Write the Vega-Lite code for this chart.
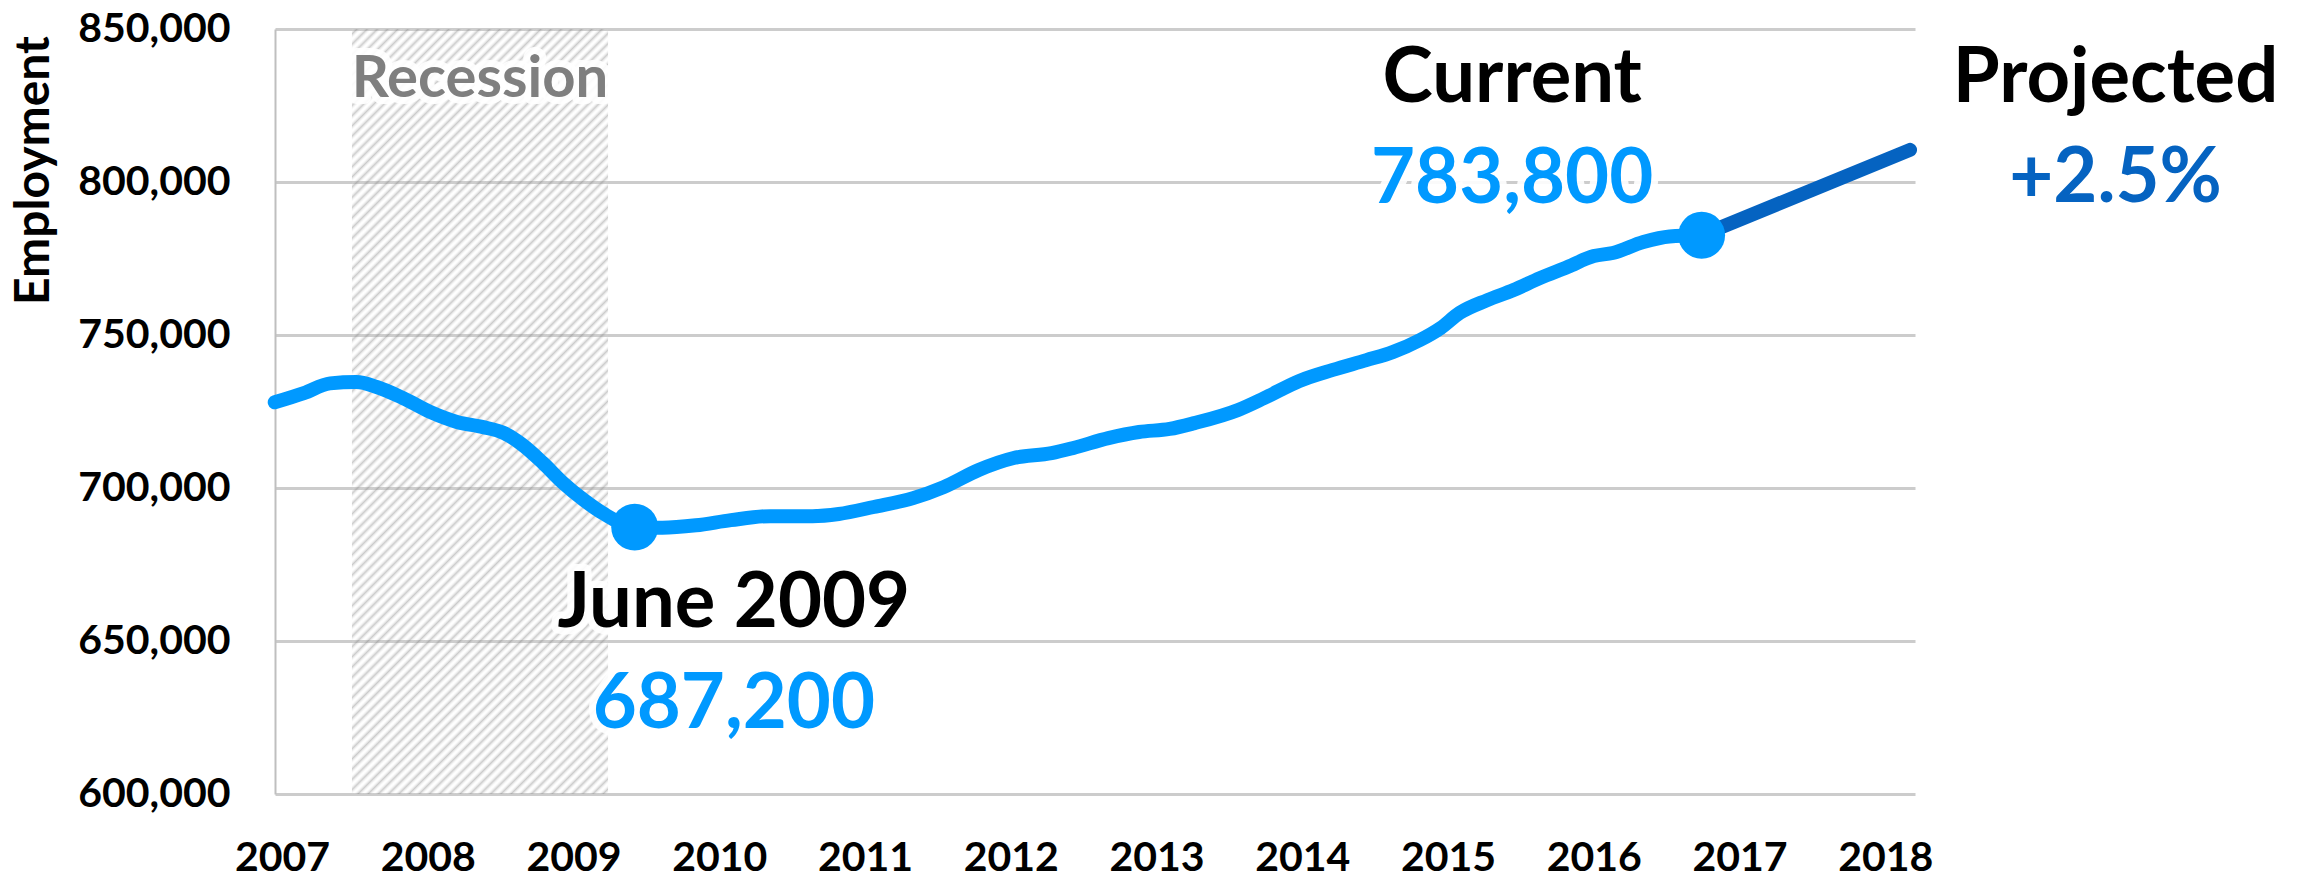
{
  "$schema": "https://vega.github.io/schema/vega-lite/v6.json",
  "width": 1640,
  "height": 765,
  "autosize": {"type": "none"},
  "padding": {"left": 275, "top": 29, "right": 391, "bottom": 92},
  "background": "white",
  "datasets": {
    "actual": [
      {"year": 2006.95, "value": 728000},
      {"year": 2007.15, "value": 731000},
      {"year": 2007.33, "value": 734200},
      {"year": 2007.51, "value": 734600},
      {"year": 2007.65, "value": 733000},
      {"year": 2007.83, "value": 729400},
      {"year": 2008.02, "value": 724800},
      {"year": 2008.2, "value": 721600},
      {"year": 2008.38, "value": 719900},
      {"year": 2008.52, "value": 718000},
      {"year": 2008.65, "value": 714100},
      {"year": 2008.79, "value": 708200},
      {"year": 2008.93, "value": 701600},
      {"year": 2009.07, "value": 696100},
      {"year": 2009.2, "value": 691800},
      {"year": 2009.42, "value": 687200},
      {"year": 2009.61, "value": 687000},
      {"year": 2009.84, "value": 687800},
      {"year": 2010.08, "value": 689500},
      {"year": 2010.35, "value": 690800},
      {"year": 2010.64, "value": 690800},
      {"year": 2010.82, "value": 691500},
      {"year": 2011.06, "value": 693800},
      {"year": 2011.33, "value": 696700},
      {"year": 2011.54, "value": 700300},
      {"year": 2011.78, "value": 705900},
      {"year": 2012.02, "value": 709800},
      {"year": 2012.28, "value": 711400},
      {"year": 2012.43, "value": 713100},
      {"year": 2012.67, "value": 716300},
      {"year": 2012.88, "value": 718300},
      {"year": 2013.09, "value": 719300},
      {"year": 2013.26, "value": 721200},
      {"year": 2013.56, "value": 725500},
      {"year": 2013.74, "value": 729400},
      {"year": 2013.98, "value": 735000},
      {"year": 2014.21, "value": 738600},
      {"year": 2014.44, "value": 741800},
      {"year": 2014.62, "value": 744400},
      {"year": 2014.81, "value": 748400},
      {"year": 2014.95, "value": 752300},
      {"year": 2015.08, "value": 757200},
      {"year": 2015.27, "value": 761400},
      {"year": 2015.45, "value": 764700},
      {"year": 2015.63, "value": 768600},
      {"year": 2015.82, "value": 772200},
      {"year": 2016.0, "value": 775800},
      {"year": 2016.13, "value": 776800},
      {"year": 2016.34, "value": 780400},
      {"year": 2016.52, "value": 782200},
      {"year": 2016.74, "value": 782600}
    ],
    "projected": [
      {"year": 2016.74, "value": 782600},
      {"year": 2018.17, "value": 810500}
    ],
    "points": [
      {"year": 2009.42, "value": 687200, "name": "June 2009"},
      {"year": 2016.74, "value": 782600, "name": "Current"}
    ],
    "recession": [
      {"start": 2007.48, "end": 2009.237, "low": 600000, "high": 850000, "label": "Recession", "labelYear": 2008.358, "labelValue": 827800}
    ],
    "notes": [
      {"text": "June 2009", "year": 2010.1, "value": 654600, "kind": "head"},
      {"text": "687,200", "year": 2010.1, "value": 621600, "kind": "actual"},
      {"text": "Current", "year": 2015.44, "value": 826100, "kind": "head"},
      {"text": "783,800", "year": 2015.44, "value": 793100, "kind": "actual"},
      {"text": "Projected", "year": 2019.58, "value": 826100, "kind": "head"},
      {"text": "+2.5%", "year": 2019.58, "value": 793400, "kind": "projected"}
    ]
  },
  "layer": [
    {
      "data": {"name": "recession"},
      "mark": {
        "type": "rect",
        "fill": {
          "gradient": "linear",
          "x1": 0, "y1": 0, "x2": 0.4017, "y2": 1.2003,
          "stops": [
            {"offset": 0, "color": "rgba(255,255,255,0)"},
            {"offset": 0.005, "color": "rgba(140,140,140,0.45)"},
            {"offset": 0.01, "color": "rgba(255,255,255,0)"},
            {"offset": 0.015, "color": "rgba(140,140,140,0.45)"},
            {"offset": 0.02, "color": "rgba(255,255,255,0)"},
            {"offset": 0.025, "color": "rgba(140,140,140,0.45)"},
            {"offset": 0.03, "color": "rgba(255,255,255,0)"},
            {"offset": 0.035, "color": "rgba(140,140,140,0.45)"},
            {"offset": 0.04, "color": "rgba(255,255,255,0)"},
            {"offset": 0.045, "color": "rgba(140,140,140,0.45)"},
            {"offset": 0.05, "color": "rgba(255,255,255,0)"},
            {"offset": 0.055, "color": "rgba(140,140,140,0.45)"},
            {"offset": 0.06, "color": "rgba(255,255,255,0)"},
            {"offset": 0.065, "color": "rgba(140,140,140,0.45)"},
            {"offset": 0.07, "color": "rgba(255,255,255,0)"},
            {"offset": 0.075, "color": "rgba(140,140,140,0.45)"},
            {"offset": 0.08, "color": "rgba(255,255,255,0)"},
            {"offset": 0.085, "color": "rgba(140,140,140,0.45)"},
            {"offset": 0.09, "color": "rgba(255,255,255,0)"},
            {"offset": 0.095, "color": "rgba(140,140,140,0.45)"},
            {"offset": 0.1, "color": "rgba(255,255,255,0)"},
            {"offset": 0.105, "color": "rgba(140,140,140,0.45)"},
            {"offset": 0.11, "color": "rgba(255,255,255,0)"},
            {"offset": 0.115, "color": "rgba(140,140,140,0.45)"},
            {"offset": 0.12, "color": "rgba(255,255,255,0)"},
            {"offset": 0.125, "color": "rgba(140,140,140,0.45)"},
            {"offset": 0.13, "color": "rgba(255,255,255,0)"},
            {"offset": 0.135, "color": "rgba(140,140,140,0.45)"},
            {"offset": 0.14, "color": "rgba(255,255,255,0)"},
            {"offset": 0.145, "color": "rgba(140,140,140,0.45)"},
            {"offset": 0.15, "color": "rgba(255,255,255,0)"},
            {"offset": 0.155, "color": "rgba(140,140,140,0.45)"},
            {"offset": 0.16, "color": "rgba(255,255,255,0)"},
            {"offset": 0.165, "color": "rgba(140,140,140,0.45)"},
            {"offset": 0.17, "color": "rgba(255,255,255,0)"},
            {"offset": 0.175, "color": "rgba(140,140,140,0.45)"},
            {"offset": 0.18, "color": "rgba(255,255,255,0)"},
            {"offset": 0.185, "color": "rgba(140,140,140,0.45)"},
            {"offset": 0.19, "color": "rgba(255,255,255,0)"},
            {"offset": 0.195, "color": "rgba(140,140,140,0.45)"},
            {"offset": 0.2, "color": "rgba(255,255,255,0)"},
            {"offset": 0.205, "color": "rgba(140,140,140,0.45)"},
            {"offset": 0.21, "color": "rgba(255,255,255,0)"},
            {"offset": 0.215, "color": "rgba(140,140,140,0.45)"},
            {"offset": 0.22, "color": "rgba(255,255,255,0)"},
            {"offset": 0.225, "color": "rgba(140,140,140,0.45)"},
            {"offset": 0.23, "color": "rgba(255,255,255,0)"},
            {"offset": 0.235, "color": "rgba(140,140,140,0.45)"},
            {"offset": 0.24, "color": "rgba(255,255,255,0)"},
            {"offset": 0.245, "color": "rgba(140,140,140,0.45)"},
            {"offset": 0.25, "color": "rgba(255,255,255,0)"},
            {"offset": 0.255, "color": "rgba(140,140,140,0.45)"},
            {"offset": 0.26, "color": "rgba(255,255,255,0)"},
            {"offset": 0.265, "color": "rgba(140,140,140,0.45)"},
            {"offset": 0.27, "color": "rgba(255,255,255,0)"},
            {"offset": 0.275, "color": "rgba(140,140,140,0.45)"},
            {"offset": 0.28, "color": "rgba(255,255,255,0)"},
            {"offset": 0.285, "color": "rgba(140,140,140,0.45)"},
            {"offset": 0.29, "color": "rgba(255,255,255,0)"},
            {"offset": 0.295, "color": "rgba(140,140,140,0.45)"},
            {"offset": 0.3, "color": "rgba(255,255,255,0)"},
            {"offset": 0.305, "color": "rgba(140,140,140,0.45)"},
            {"offset": 0.31, "color": "rgba(255,255,255,0)"},
            {"offset": 0.315, "color": "rgba(140,140,140,0.45)"},
            {"offset": 0.32, "color": "rgba(255,255,255,0)"},
            {"offset": 0.325, "color": "rgba(140,140,140,0.45)"},
            {"offset": 0.33, "color": "rgba(255,255,255,0)"},
            {"offset": 0.335, "color": "rgba(140,140,140,0.45)"},
            {"offset": 0.34, "color": "rgba(255,255,255,0)"},
            {"offset": 0.345, "color": "rgba(140,140,140,0.45)"},
            {"offset": 0.35, "color": "rgba(255,255,255,0)"},
            {"offset": 0.355, "color": "rgba(140,140,140,0.45)"},
            {"offset": 0.36, "color": "rgba(255,255,255,0)"},
            {"offset": 0.365, "color": "rgba(140,140,140,0.45)"},
            {"offset": 0.37, "color": "rgba(255,255,255,0)"},
            {"offset": 0.375, "color": "rgba(140,140,140,0.45)"},
            {"offset": 0.38, "color": "rgba(255,255,255,0)"},
            {"offset": 0.385, "color": "rgba(140,140,140,0.45)"},
            {"offset": 0.39, "color": "rgba(255,255,255,0)"},
            {"offset": 0.395, "color": "rgba(140,140,140,0.45)"},
            {"offset": 0.4, "color": "rgba(255,255,255,0)"},
            {"offset": 0.405, "color": "rgba(140,140,140,0.45)"},
            {"offset": 0.41, "color": "rgba(255,255,255,0)"},
            {"offset": 0.415, "color": "rgba(140,140,140,0.45)"},
            {"offset": 0.42, "color": "rgba(255,255,255,0)"},
            {"offset": 0.425, "color": "rgba(140,140,140,0.45)"},
            {"offset": 0.43, "color": "rgba(255,255,255,0)"},
            {"offset": 0.435, "color": "rgba(140,140,140,0.45)"},
            {"offset": 0.44, "color": "rgba(255,255,255,0)"},
            {"offset": 0.445, "color": "rgba(140,140,140,0.45)"},
            {"offset": 0.45, "color": "rgba(255,255,255,0)"},
            {"offset": 0.455, "color": "rgba(140,140,140,0.45)"},
            {"offset": 0.46, "color": "rgba(255,255,255,0)"},
            {"offset": 0.465, "color": "rgba(140,140,140,0.45)"},
            {"offset": 0.47, "color": "rgba(255,255,255,0)"},
            {"offset": 0.475, "color": "rgba(140,140,140,0.45)"},
            {"offset": 0.48, "color": "rgba(255,255,255,0)"},
            {"offset": 0.485, "color": "rgba(140,140,140,0.45)"},
            {"offset": 0.49, "color": "rgba(255,255,255,0)"},
            {"offset": 0.495, "color": "rgba(140,140,140,0.45)"},
            {"offset": 0.5, "color": "rgba(255,255,255,0)"},
            {"offset": 0.505, "color": "rgba(140,140,140,0.45)"},
            {"offset": 0.51, "color": "rgba(255,255,255,0)"},
            {"offset": 0.515, "color": "rgba(140,140,140,0.45)"},
            {"offset": 0.52, "color": "rgba(255,255,255,0)"},
            {"offset": 0.525, "color": "rgba(140,140,140,0.45)"},
            {"offset": 0.53, "color": "rgba(255,255,255,0)"},
            {"offset": 0.535, "color": "rgba(140,140,140,0.45)"},
            {"offset": 0.54, "color": "rgba(255,255,255,0)"},
            {"offset": 0.545, "color": "rgba(140,140,140,0.45)"},
            {"offset": 0.55, "color": "rgba(255,255,255,0)"},
            {"offset": 0.555, "color": "rgba(140,140,140,0.45)"},
            {"offset": 0.56, "color": "rgba(255,255,255,0)"},
            {"offset": 0.565, "color": "rgba(140,140,140,0.45)"},
            {"offset": 0.57, "color": "rgba(255,255,255,0)"},
            {"offset": 0.575, "color": "rgba(140,140,140,0.45)"},
            {"offset": 0.58, "color": "rgba(255,255,255,0)"},
            {"offset": 0.585, "color": "rgba(140,140,140,0.45)"},
            {"offset": 0.59, "color": "rgba(255,255,255,0)"},
            {"offset": 0.595, "color": "rgba(140,140,140,0.45)"},
            {"offset": 0.6, "color": "rgba(255,255,255,0)"},
            {"offset": 0.605, "color": "rgba(140,140,140,0.45)"},
            {"offset": 0.61, "color": "rgba(255,255,255,0)"},
            {"offset": 0.615, "color": "rgba(140,140,140,0.45)"},
            {"offset": 0.62, "color": "rgba(255,255,255,0)"},
            {"offset": 0.625, "color": "rgba(140,140,140,0.45)"},
            {"offset": 0.63, "color": "rgba(255,255,255,0)"},
            {"offset": 0.635, "color": "rgba(140,140,140,0.45)"},
            {"offset": 0.64, "color": "rgba(255,255,255,0)"},
            {"offset": 0.645, "color": "rgba(140,140,140,0.45)"},
            {"offset": 0.65, "color": "rgba(255,255,255,0)"},
            {"offset": 0.655, "color": "rgba(140,140,140,0.45)"},
            {"offset": 0.66, "color": "rgba(255,255,255,0)"},
            {"offset": 0.665, "color": "rgba(140,140,140,0.45)"},
            {"offset": 0.67, "color": "rgba(255,255,255,0)"},
            {"offset": 0.675, "color": "rgba(140,140,140,0.45)"},
            {"offset": 0.68, "color": "rgba(255,255,255,0)"},
            {"offset": 0.685, "color": "rgba(140,140,140,0.45)"},
            {"offset": 0.69, "color": "rgba(255,255,255,0)"},
            {"offset": 0.695, "color": "rgba(140,140,140,0.45)"},
            {"offset": 0.7, "color": "rgba(255,255,255,0)"},
            {"offset": 0.705, "color": "rgba(140,140,140,0.45)"},
            {"offset": 0.71, "color": "rgba(255,255,255,0)"},
            {"offset": 0.715, "color": "rgba(140,140,140,0.45)"},
            {"offset": 0.72, "color": "rgba(255,255,255,0)"},
            {"offset": 0.725, "color": "rgba(140,140,140,0.45)"},
            {"offset": 0.73, "color": "rgba(255,255,255,0)"},
            {"offset": 0.735, "color": "rgba(140,140,140,0.45)"},
            {"offset": 0.74, "color": "rgba(255,255,255,0)"},
            {"offset": 0.745, "color": "rgba(140,140,140,0.45)"},
            {"offset": 0.75, "color": "rgba(255,255,255,0)"},
            {"offset": 0.755, "color": "rgba(140,140,140,0.45)"},
            {"offset": 0.76, "color": "rgba(255,255,255,0)"},
            {"offset": 0.765, "color": "rgba(140,140,140,0.45)"},
            {"offset": 0.77, "color": "rgba(255,255,255,0)"},
            {"offset": 0.775, "color": "rgba(140,140,140,0.45)"},
            {"offset": 0.78, "color": "rgba(255,255,255,0)"},
            {"offset": 0.785, "color": "rgba(140,140,140,0.45)"},
            {"offset": 0.79, "color": "rgba(255,255,255,0)"},
            {"offset": 0.795, "color": "rgba(140,140,140,0.45)"},
            {"offset": 0.8, "color": "rgba(255,255,255,0)"},
            {"offset": 0.805, "color": "rgba(140,140,140,0.45)"},
            {"offset": 0.81, "color": "rgba(255,255,255,0)"},
            {"offset": 0.815, "color": "rgba(140,140,140,0.45)"},
            {"offset": 0.82, "color": "rgba(255,255,255,0)"},
            {"offset": 0.825, "color": "rgba(140,140,140,0.45)"},
            {"offset": 0.83, "color": "rgba(255,255,255,0)"},
            {"offset": 0.835, "color": "rgba(140,140,140,0.45)"},
            {"offset": 0.84, "color": "rgba(255,255,255,0)"},
            {"offset": 0.845, "color": "rgba(140,140,140,0.45)"},
            {"offset": 0.85, "color": "rgba(255,255,255,0)"},
            {"offset": 0.855, "color": "rgba(140,140,140,0.45)"},
            {"offset": 0.86, "color": "rgba(255,255,255,0)"},
            {"offset": 0.865, "color": "rgba(140,140,140,0.45)"},
            {"offset": 0.87, "color": "rgba(255,255,255,0)"},
            {"offset": 0.875, "color": "rgba(140,140,140,0.45)"},
            {"offset": 0.88, "color": "rgba(255,255,255,0)"},
            {"offset": 0.885, "color": "rgba(140,140,140,0.45)"},
            {"offset": 0.89, "color": "rgba(255,255,255,0)"},
            {"offset": 0.895, "color": "rgba(140,140,140,0.45)"},
            {"offset": 0.9, "color": "rgba(255,255,255,0)"},
            {"offset": 0.905, "color": "rgba(140,140,140,0.45)"},
            {"offset": 0.91, "color": "rgba(255,255,255,0)"},
            {"offset": 0.915, "color": "rgba(140,140,140,0.45)"},
            {"offset": 0.92, "color": "rgba(255,255,255,0)"},
            {"offset": 0.925, "color": "rgba(140,140,140,0.45)"},
            {"offset": 0.93, "color": "rgba(255,255,255,0)"},
            {"offset": 0.935, "color": "rgba(140,140,140,0.45)"},
            {"offset": 0.94, "color": "rgba(255,255,255,0)"},
            {"offset": 0.945, "color": "rgba(140,140,140,0.45)"},
            {"offset": 0.95, "color": "rgba(255,255,255,0)"},
            {"offset": 0.955, "color": "rgba(140,140,140,0.45)"},
            {"offset": 0.96, "color": "rgba(255,255,255,0)"},
            {"offset": 0.965, "color": "rgba(140,140,140,0.45)"},
            {"offset": 0.97, "color": "rgba(255,255,255,0)"},
            {"offset": 0.975, "color": "rgba(140,140,140,0.45)"},
            {"offset": 0.98, "color": "rgba(255,255,255,0)"},
            {"offset": 0.985, "color": "rgba(140,140,140,0.45)"},
            {"offset": 0.99, "color": "rgba(255,255,255,0)"},
            {"offset": 0.995, "color": "rgba(140,140,140,0.45)"},
            {"offset": 1, "color": "rgba(255,255,255,0)"}
          ]
        }
      },
      "encoding": {
        "x": {
          "field": "start", "type": "quantitative", "title": null,
          "scale": {"domain": [2006.952, 2018.204], "nice": false, "zero": false},
          "axis": {"values": [2007, 2008, 2009, 2010, 2011, 2012, 2013, 2014, 2015, 2016, 2017, 2018], "format": "d"}
        },
        "x2": {"field": "end"},
        "y": {
          "field": "low", "type": "quantitative", "title": "Employment",
          "scale": {"domain": [600000, 850000], "nice": false, "zero": false},
          "axis": {"values": [600000, 650000, 700000, 750000, 800000, 850000], "format": ",d"}
        },
        "y2": {"field": "high"}
      }
    },
    {
      "data": {"name": "projected"},
      "mark": {"type": "line", "color": "#0563C1", "strokeWidth": 14, "strokeCap": "round"},
      "encoding": {
        "x": {"field": "year", "type": "quantitative", "title": null},
        "y": {"field": "value", "type": "quantitative", "title": "Employment"}
      }
    },
    {
      "data": {"name": "actual"},
      "mark": {"type": "line", "color": "#0099FF", "strokeWidth": 14, "strokeCap": "round", "strokeJoin": "round", "interpolate": "monotone"},
      "encoding": {
        "x": {"field": "year", "type": "quantitative", "title": null},
        "y": {"field": "value", "type": "quantitative", "title": "Employment"}
      }
    },
    {
      "data": {"name": "points"},
      "mark": {"type": "point", "filled": true, "color": "#0099FF", "opacity": 1, "size": 2200},
      "encoding": {
        "x": {"field": "year", "type": "quantitative", "title": null},
        "y": {"field": "value", "type": "quantitative", "title": "Employment"}
      }
    },
    {
      "data": {"name": "recession"},
      "mark": {"type": "text", "font": "Lato", "fontWeight": "bold", "fontSize": 58, "align": "center", "baseline": "alphabetic", "fill": "white", "stroke": "white", "strokeWidth": 14, "strokeJoin": "round", "strokeOpacity": 0.9},
      "encoding": {
        "x": {"field": "labelYear", "type": "quantitative", "title": null},
        "y": {"field": "labelValue", "type": "quantitative", "title": "Employment"},
        "text": {"field": "label"}
      }
    },
    {
      "data": {"name": "recession"},
      "mark": {"type": "text", "font": "Lato", "fontWeight": "bold", "fontSize": 58, "align": "center", "baseline": "alphabetic", "color": "#7F7F7F"},
      "encoding": {
        "x": {"field": "labelYear", "type": "quantitative", "title": null},
        "y": {"field": "labelValue", "type": "quantitative", "title": "Employment"},
        "text": {"field": "label"}
      }
    },
    {
      "data": {"name": "notes"},
      "mark": {"type": "text", "font": "Lato", "fontWeight": "bold", "fontSize": 76, "align": "center", "baseline": "alphabetic", "fill": "white", "stroke": "white", "strokeWidth": 14, "strokeJoin": "round", "strokeOpacity": 0.9},
      "encoding": {
        "x": {"field": "year", "type": "quantitative", "title": null},
        "y": {"field": "value", "type": "quantitative", "title": "Employment"},
        "text": {"field": "text"}
      }
    },
    {
      "data": {"name": "notes"},
      "transform": [{"filter": "datum.kind === 'head'"}],
      "mark": {"type": "text", "font": "Lato", "fontWeight": "bold", "fontSize": 76, "align": "center", "baseline": "alphabetic", "color": "#000000"},
      "encoding": {
        "x": {"field": "year", "type": "quantitative", "title": null},
        "y": {"field": "value", "type": "quantitative", "title": "Employment"},
        "text": {"field": "text"}
      }
    },
    {
      "data": {"name": "notes"},
      "transform": [{"filter": "datum.kind === 'actual'"}],
      "mark": {"type": "text", "font": "Lato", "fontWeight": "bold", "fontSize": 76, "align": "center", "baseline": "alphabetic", "color": "#0099FF"},
      "encoding": {
        "x": {"field": "year", "type": "quantitative", "title": null},
        "y": {"field": "value", "type": "quantitative", "title": "Employment"},
        "text": {"field": "text"}
      }
    },
    {
      "data": {"name": "notes"},
      "transform": [{"filter": "datum.kind === 'projected'"}],
      "mark": {"type": "text", "font": "Lato", "fontWeight": "bold", "fontSize": 76, "align": "center", "baseline": "alphabetic", "color": "#0563C1"},
      "encoding": {
        "x": {"field": "year", "type": "quantitative", "title": null},
        "y": {"field": "value", "type": "quantitative", "title": "Employment"},
        "text": {"field": "text"}
      }
    }
  ],
  "config": {
    "view": {"stroke": null},
    "font": "Lato",
    "axisX": {
      "labelFont": "Lato",
      "labelFontWeight": "bold",
      "labelFontSize": 41,
      "labelColor": "#000000",
      "labelPadding": 44,
      "labelBaseline": "top",
      "labelFlush": false,
      "labelOverlap": false,
      "labelBound": false,
      "ticks": false,
      "domain": false,
      "grid": false
    },
    "axisY": {
      "format": ",d",
      "labelFont": "Lato",
      "labelFontWeight": "bold",
      "labelFontSize": 41,
      "labelColor": "#000000",
      "labelPadding": 45,
      "labelFlush": false,
      "labelOverlap": false,
      "labelBound": false,
      "labelLimit": 400,
      "ticks": false,
      "domain": true,
      "domainColor": "#BFBFBF",
      "domainWidth": 2,
      "grid": true,
      "gridColor": "#CCCCCC",
      "gridWidth": 3,
      "titleFont": "Lato",
      "titleFontWeight": "bold",
      "titleFontSize": 48,
      "titleColor": "#000000",
      "titleAngle": -90,
      "titleAlign": "center",
      "titleBaseline": "alphabetic",
      "titleX": -227,
      "titleY": 141
    }
  }
}
